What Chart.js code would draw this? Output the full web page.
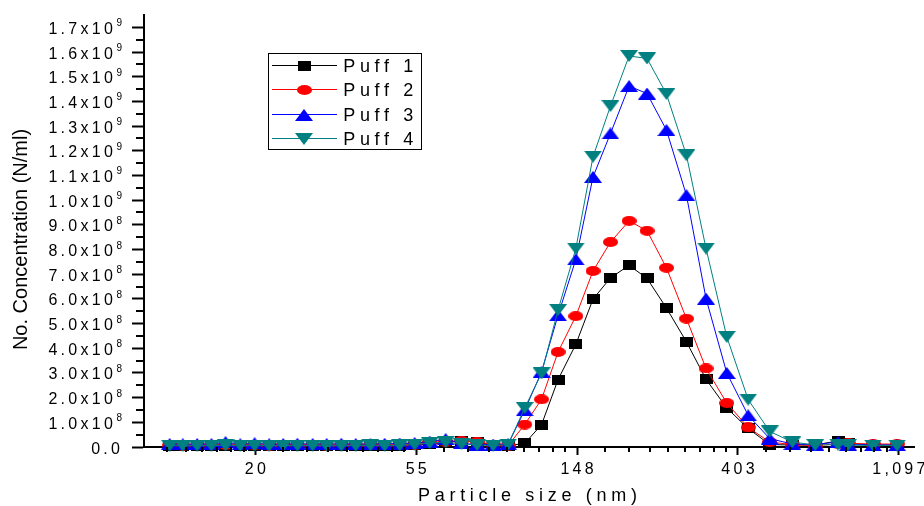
<!DOCTYPE html>
<html>
<head>
<meta charset="utf-8">
<script src="https://cdn.jsdelivr.net/npm/chart.js@4.4.1/dist/chart.umd.min.js"></script>
<style>
  html, body { margin: 0; padding: 0; background: #fff; }
  #wrap { width: 924px; height: 506px; position: relative; }
</style>
</head>
<body>
<div id="wrap"><canvas id="chart"></canvas></div>
<script>
// Particle size distribution, 4 puffs (values in units of 1e8 N/ml)

const sizes = [11.8, 12.8, 14.0, 15.3, 16.7, 18.3, 20.0, 21.9, 23.9, 26.1, 28.7, 31.3, 34.3,
  37.5, 41.1, 44.9, 49.3, 54.1, 59.4, 65.6, 72.4, 79.7, 88.1, 96.7, 107.2, 119.0, 131.9,
  147.3, 163.9, 182.7, 205.1, 229.3, 258.7, 292.9, 330.9, 376.4, 430.0, 491.5, 566.0,
  652.2, 751.6, 799.8, 934.0, 1084.9];

const puff1 = [0.05, 0.06, 0.05, 0.05, 0.06, 0.05, 0.05, 0.06, 0.05, 0.05, 0.06, 0.05, 0.05,
  0.06, 0.05, 0.06, 0.06, 0.08, 0.12, 0.18, 0.26, 0.20, 0.08, 0.05, 0.15, 0.90, 2.73,
  4.16, 5.99, 6.85, 7.36, 6.83, 5.63, 4.26, 2.74, 1.58, 0.75, 0.10, 0.08,
  0.08, 0.25, 0.15, 0.08, 0.08];

const puff2 = [0.07, 0.06, 0.07, 0.07, 0.08, 0.07, 0.07, 0.06, 0.07, 0.07, 0.07, 0.06, 0.07,
  0.07, 0.08, 0.07, 0.08, 0.10, 0.20, 0.22, 0.25, 0.22, 0.10, 0.06, 0.91, 1.93, 3.85,
  5.30, 7.13, 8.30, 9.16, 8.76, 7.26, 5.20, 3.18, 1.78, 0.79, 0.20, 0.10,
  0.06, 0.12, 0.15, 0.12, 0.12];

const puff3 = [0.12, 0.11, 0.12, 0.12, 0.20, 0.11, 0.15, 0.11, 0.12, 0.13, 0.12, 0.12, 0.13,
  0.12, 0.12, 0.13, 0.14, 0.16, 0.22, 0.32, 0.15, 0.10, 0.10, 0.12, 1.49, 3.04, 5.34,
  7.60, 10.94, 12.70, 14.62, 14.32, 12.84, 10.20, 6.01, 3.00, 1.28, 0.34, 0.12,
  0.10, 0.20, 0.10, 0.08, 0.08];

const puff4 = [0.06, 0.05, 0.06, 0.06, 0.07, 0.06, 0.06, 0.05, 0.06, 0.06, 0.06, 0.05, 0.06,
  0.06, 0.07, 0.06, 0.07, 0.10, 0.16, 0.20, 0.12, 0.08, 0.06, 0.10, 1.58, 2.98, 5.55,
  8.04, 11.76, 13.81, 15.84, 15.74, 14.30, 11.82, 8.04, 4.46, 1.92, 0.63, 0.20,
  0.08, 0.10, 0.08, 0.06, 0.06];

const seriesNames = ['Puff 1', 'Puff 2', 'Puff 3', 'Puff 4'];
const seriesColors = ['#000000', '#ff0000', '#0000ff', '#008080'];

const xTickValues = [20.09, 54.6, 148.41, 403.43, 1096.63];
const xTickLabels = ['20', '55', '148', '403', '1,097'];
const yTickValues = [0, 1, 2, 3, 4, 5, 6, 7, 8, 9, 10, 11, 12, 13, 14, 15, 16, 17];
const yTickText = ['0.0', '1.0x10', '2.0x10', '3.0x10', '4.0x10', '5.0x10', '6.0x10', '7.0x10',
  '8.0x10', '9.0x10', '1.0x10', '1.1x10', '1.2x10', '1.3x10', '1.4x10', '1.5x10', '1.6x10', '1.7x10'];
const yTickSup = ['', '8', '8', '8', '8', '8', '8', '8', '8', '8', '9', '9', '9', '9', '9', '9', '9', '9'];

const FONT = '"Liberation Sans", Arial, sans-serif';

// stretched marker shapes (the original figure is squashed vertically)
function makeMarker(kind, color) {
  const c = document.createElement('canvas');
  const w = kind === 'rect' ? 13 : kind === 'circle' ? 15 : 18;
  const h = kind === 'rect' ? 10 : kind === 'circle' ? 10 : 12;
  c.width = w; c.height = h;
  const g = c.getContext('2d');
  g.fillStyle = color;
  g.beginPath();
  if (kind === 'rect') {
    g.rect(0, 0, w, h);
  } else if (kind === 'circle') {
    g.ellipse(w / 2, h / 2, w / 2, h / 2, 0, 0, Math.PI * 2);
  } else if (kind === 'up') {
    g.moveTo(w / 2, 0); g.lineTo(w, h); g.lineTo(0, h);
  } else {
    g.moveTo(0, 0); g.lineTo(w, 0); g.lineTo(w / 2, h);
  }
  g.closePath();
  g.fill();
  return c;
}

const markers = [
  makeMarker('rect', seriesColors[0]),
  makeMarker('circle', seriesColors[1]),
  makeMarker('up', seriesColors[2]),
  makeMarker('down', seriesColors[3])
];

// text with letter spacing, drawn char by char
function spacedText(ctx, text, x, y, spacing, align) {
  const chars = Array.from(text);
  const widths = chars.map(ch => ctx.measureText(ch).width);
  const total = widths.reduce((s, w) => s + w, 0) + spacing * (chars.length - 1);
  let cx = align === 'right' ? x - total : align === 'center' ? x - total / 2 : x;
  ctx.textAlign = 'left';
  chars.forEach((ch, i) => {
    ctx.fillText(ch, cx, y);
    cx += widths[i] + spacing;
  });
  return total;
}

const decor = {
  id: 'decor',
  afterDraw(chart) {
    const ctx = chart.ctx;
    const area = chart.chartArea;
    const xs = chart.scales.x;
    const ys = chart.scales.y;
    ctx.save();
    ctx.strokeStyle = '#000';
    ctx.fillStyle = '#000';
    ctx.lineWidth = 2;

    // y minor ticks
    for (let v = 0.5; v < 17.5; v += 1) {
      const py = Math.round(ys.getPixelForValue(v));
      ctx.beginPath();
      ctx.moveTo(area.left - 8, py);
      ctx.lineTo(area.left, py);
      ctx.stroke();
    }

    // x minor ticks: 8 linear steps between e^n and e^(n+1)
    for (let n = 2; n < 8; n++) {
      const lo = Math.exp(n), hi = Math.exp(n + 1);
      for (let k = 1; k < 9; k++) {
        const v = lo + k * (hi - lo) / 9;
        if (v < xs.min || v > xs.max) continue;
        const px = Math.round(xs.getPixelForValue(v));
        if (px < area.left + 5 || px > area.right - 2) continue;
        ctx.beginPath();
        ctx.moveTo(px, area.bottom);
        ctx.lineTo(px, area.bottom + 5);
        ctx.stroke();
      }
    }

    // y tick labels with superscript exponent
    yTickValues.forEach((v, i) => {
      const py = ys.getPixelForValue(v);
      let right = area.left - 22;
      if (yTickSup[i]) {
        ctx.font = '10px ' + FONT;
        const sw = ctx.measureText(yTickSup[i]).width;
        ctx.textAlign = 'left';
        ctx.fillText(yTickSup[i], right - sw, py - 1);
        right = right - sw - 3.5;
      } else {
        right = area.left - 24;
      }
      ctx.font = '16px ' + FONT;
      spacedText(ctx, yTickText[i], right, py + 6.5, 3.3, 'right');
    });

    // x tick labels
    ctx.font = '16px ' + FONT;
    xTickValues.forEach((v, i) => {
      const px = xs.getPixelForValue(v);
      spacedText(ctx, xTickLabels[i], px, area.bottom + 26.5, 3.25, 'center');
    });

    // axis titles
    ctx.font = '18px ' + FONT;
    spacedText(ctx, 'Particle size (nm)', 527.5, 501, 4.7, 'center');

    ctx.save();
    ctx.translate(27, 239.5);
    ctx.rotate(-Math.PI / 2);
    ctx.font = '20px ' + FONT;
    ctx.textAlign = 'center';
    ctx.fillText('No. Concentration (N/ml)', 0, 0);
    ctx.restore();

    // legend box
    ctx.lineWidth = 1;
    ctx.strokeRect(268.5, 53.5, 153, 96);
    ctx.font = '18px ' + FONT;
    chart.data.datasets.forEach((ds, i) => {
      const ry = Math.round(65 + i * 24.4) + 0.5;
      ctx.strokeStyle = ds.borderColor;
      ctx.beginPath();
      ctx.moveTo(272, ry);
      ctx.lineTo(337, ry);
      ctx.stroke();
      const m = ds.pointStyle;
      ctx.drawImage(m, Math.round(304 - m.width / 2), Math.round(ry - m.height / 2));
      ctx.fillStyle = '#000';
      spacedText(ctx, ds.label, 343.3, ry + 6.5, 4.6, 'left');
    });
    ctx.restore();
  }
};

const allSeries = [puff1, puff2, puff3, puff4];

const datasets = allSeries.map((vals, i) => ({
  label: seriesNames[i],
  data: sizes.map((s, j) => ({ x: s, y: vals[j] })),
  borderColor: seriesColors[i],
  backgroundColor: seriesColors[i],
  borderWidth: 1,
  pointStyle: markers[i],
  pointRadius: 6,
  tension: 0,
  clip: false,
  order: 4 - i
}));

new Chart(document.getElementById('chart'), {
  type: 'line',
  data: { datasets: datasets },
  options: {
    responsive: true,
    maintainAspectRatio: false,
    animation: false,
    events: [],
    layout: { padding: { top: 15, right: 10, left: 0, bottom: 0 } },
    plugins: {
      legend: { display: false },
      tooltip: { enabled: false }
    },
    scales: {
      x: {
        type: 'logarithmic',
        min: 10.06,
        max: 1205,
        border: { display: true, color: '#000', width: 2 },
        grid: { drawOnChartArea: false, drawTicks: true, tickLength: 8, tickWidth: 2, tickColor: '#000' },
        ticks: { display: false },
        afterBuildTicks: scale => { scale.ticks = xTickValues.map(v => ({ value: v })); },
        afterFit: scale => { scale.height = 59; }
      },
      y: {
        type: 'linear',
        min: 0,
        max: 17.5,
        border: { display: true, color: '#000', width: 2 },
        grid: { drawOnChartArea: false, drawTicks: true, tickLength: 12, tickWidth: 2, tickColor: '#000' },
        ticks: { display: false },
        afterBuildTicks: scale => { scale.ticks = yTickValues.map(v => ({ value: v })); },
        afterFit: scale => { scale.width = 144; }
      }
    }
  },
  plugins: [decor]
});
</script>
</body>
</html>
